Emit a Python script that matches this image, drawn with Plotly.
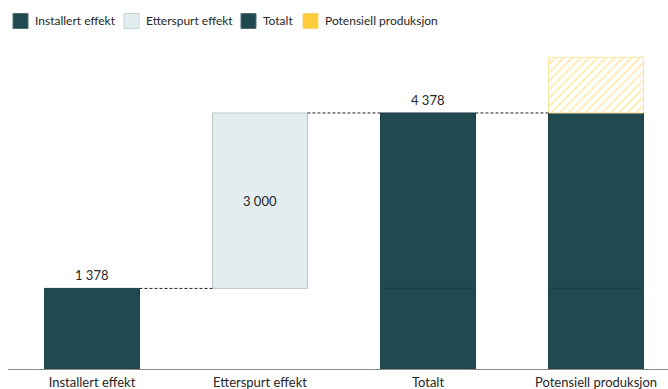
import plotly.graph_objects as go

# Data
categories = ["Installert effekt", "Etterspurt effekt", "Totalt", "Potensiell produksjon"]
installert = 1378
etterspurt = 3000
totalt = installert + etterspurt
potensiell_total = 5330
potensiell_ekstra = potensiell_total - totalt

legend_items = ["Installert effekt", "Etterspurt effekt", "Totalt", "Potensiell produksjon"]

DARK = "#204A50"
DARK_EDGE = "#1A3E43"
LIGHT = "#E2EDF0"
LIGHT_EDGE = "#BEC6C8"
YELLOW = "#FDCB3C"
YELLOW_EDGE = "#FBE3A0"
TEXT = "#262626"
FONT = "Lato"

W, H = 668, 389
ML, MR, MT, MB = 8, 0, 45, 20
BAR_W = 0.565
YMAX = 5540


def fmt(v):
    return f"{v:,}".replace(",", " ")


def px_x(p):
    return (p - ML) / (W - ML - MR)


def px_y(p):
    return (H - MB - p) / (H - MT - MB)


fig = go.Figure()

fig.add_trace(go.Bar(
    x=[categories[0]], y=[installert], width=BAR_W,
    marker=dict(color=DARK, line=dict(color=DARK_EDGE, width=1)),
    name=legend_items[0], hoverinfo="skip",
))
fig.add_trace(go.Bar(
    x=[categories[1]], y=[etterspurt], base=[installert], width=BAR_W,
    marker=dict(color=LIGHT, line=dict(color=LIGHT_EDGE, width=1)),
    name=legend_items[1], hoverinfo="skip",
))
# Totalt and the lower part of Potensiell produksjon, split at installed capacity
fig.add_trace(go.Bar(
    x=categories[2:], y=[installert, installert], width=BAR_W,
    marker=dict(color=DARK, line=dict(color=DARK_EDGE, width=1)),
    name=legend_items[2], hoverinfo="skip",
))
fig.add_trace(go.Bar(
    x=categories[2:], y=[etterspurt, etterspurt], base=[installert, installert], width=BAR_W,
    marker=dict(color=DARK, line=dict(color=DARK_EDGE, width=1)),
    name=legend_items[2], hoverinfo="skip",
))
fig.add_trace(go.Bar(
    x=[categories[3]], y=[potensiell_ekstra], base=[totalt], width=BAR_W,
    marker=dict(
        color="white",
        line=dict(color=YELLOW_EDGE, width=1),
        pattern=dict(shape="/", fgcolor="#FDD45E", bgcolor="white", size=6, solidity=0.3),
    ),
    name=legend_items[3], hoverinfo="skip",
))

# Dashed connectors between bars
connectors = [(0, installert), (1, totalt), (2, totalt)]
for i, level in connectors:
    fig.add_shape(
        type="line", xref="x", yref="y",
        x0=i + BAR_W / 2, x1=i + 1 - BAR_W / 2, y0=level, y1=level,
        line=dict(color="#222222", width=1, dash="3px,2px"),
    )

# Value labels
fig.add_annotation(x=categories[0], y=installert, text=fmt(installert), showarrow=False,
                   yanchor="bottom", yshift=3, font=dict(size=13, color=TEXT, family=FONT))
fig.add_annotation(x=categories[1], y=installert + etterspurt / 2, text=fmt(etterspurt), showarrow=False,
                   yanchor="middle", font=dict(size=13, color=TEXT, family=FONT))
fig.add_annotation(x=categories[2], y=totalt, text=fmt(totalt), showarrow=False,
                   yanchor="bottom", yshift=3, font=dict(size=13, color=TEXT, family=FONT))

# Legend row
legend_x = [13, 124, 241, 303]
legend_fill = [DARK, LIGHT, DARK, YELLOW]
legend_edge = ["#4F6E72", "#C9D2D4", "#4F6E72", "#F5D36E"]
for lx, label, fill, edge in zip(legend_x, legend_items, legend_fill, legend_edge):
    fig.add_shape(
        type="rect", xref="paper", yref="paper",
        x0=px_x(lx), x1=px_x(lx + 15), y0=px_y(28.5), y1=px_y(13.5),
        fillcolor=fill, line=dict(color=edge, width=1),
    )
    fig.add_annotation(
        xref="paper", yref="paper", x=px_x(lx + 20), y=px_y(21),
        text=label, showarrow=False, xanchor="left", yanchor="middle",
        font=dict(size=12, color=TEXT, family=FONT),
    )

fig.update_layout(
    width=W, height=H,
    margin=dict(l=ML, r=MR, t=MT, b=MB, pad=0, autoexpand=False),
    barmode="overlay",
    showlegend=False,
    plot_bgcolor="white", paper_bgcolor="white",
    xaxis=dict(
        type="category", categoryorder="array", categoryarray=categories,
        range=[-0.5, -0.5 + (W - ML - MR) / 168],
        showgrid=False, zeroline=False, showline=True, linecolor="#8C8C8C", linewidth=1,
        ticks="", ticklabelstandoff=1, tickfont=dict(size=13, color=TEXT, family=FONT),
        automargin=False, fixedrange=True,
    ),
    yaxis=dict(
        range=[0, YMAX], visible=False, showgrid=False, zeroline=False, fixedrange=True,
        automargin=False,
    ),
)

fig.write_html("out.html", config={"displayModeBar": False})
